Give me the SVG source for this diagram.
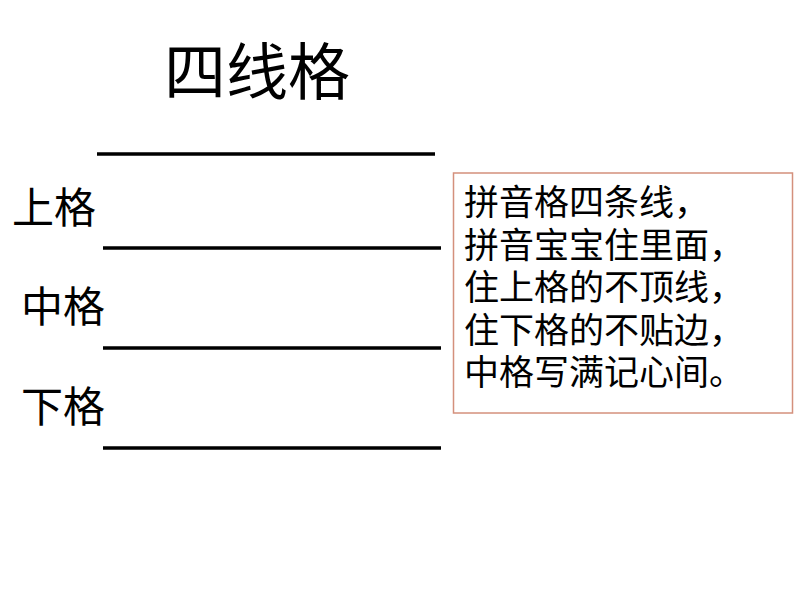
<svg xmlns="http://www.w3.org/2000/svg" width="794" height="596" viewBox="0 0 794 596">
<style>
.t{font-family:"Noto Sans CJK SC","Noto Sans",sans-serif;fill:#000}
.ln{stroke:#000;stroke-width:3.5}
</style>
<rect width="794" height="596" fill="#fff"/>
<g id="title"><text class="t" x="164" y="95" font-size="62">四线格</text></g>
<g id="lines">
<line class="ln" x1="97" y1="154" x2="435" y2="154"/>
<line class="ln" x1="103" y1="248" x2="441" y2="248"/>
<line class="ln" x1="103" y1="348" x2="441" y2="348"/>
<line class="ln" x1="103" y1="448" x2="441" y2="448"/>
</g>
<g id="labels">
<text class="t" x="12" y="223" font-size="42">上格</text>
<text class="t" x="21" y="322" font-size="42">中格</text>
<text class="t" x="21" y="422" font-size="42">下格</text>
</g>
<g id="rhyme">
<rect x="453.5" y="173" width="339" height="240" fill="#fff" stroke="#d4907c" stroke-width="1.5"/>
<text class="t" font-size="35" x="464">
<tspan x="464" y="215">拼音格四条线，</tspan>
<tspan x="464" y="258">拼音宝宝住里面，</tspan>
<tspan x="464" y="300">住上格的不顶线，</tspan>
<tspan x="464" y="343">住下格的不贴边，</tspan>
<tspan x="464" y="385">中格写满记心间。</tspan>
</text>
</g>
</svg>
